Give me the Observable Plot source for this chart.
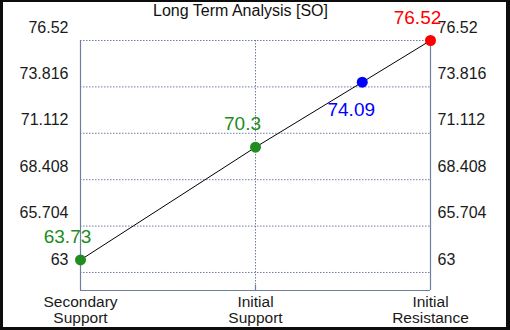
<!DOCTYPE html>
<html><head><meta charset="utf-8">
<script src="https://cdn.jsdelivr.net/npm/d3@7"></script>
<script src="https://cdn.jsdelivr.net/npm/@observablehq/plot@0.6"></script>
<style>
html,body{margin:0;padding:0;background:#0d0d0d;width:510px;height:330px;overflow:hidden;}
#wrap{position:absolute;left:3px;top:2px;width:503px;height:325px;background:#fff;}
#wrap svg{display:block;}
</style></head><body><div id="wrap"></div>
<script>
const title = "Long Term Analysis [SO]";
const categories = ["Secondary\nSupport", "Initial\nSupport", "Initial\nResistance"];
const categoryPos = [0, 1, 2];
const pointNames = ["Secondary Support", "Initial Support", "Current", "Initial Resistance"];
const pointX = [0, 1, 1.61, 2];
const pointValues = [63.73, 70.3, 74.09, 76.52];
const pointColors = ["#228b22", "#228b22", "#0000ff", "#ff0000"];
const tickValues = [63, 65.704, 68.408, 71.112, 73.816, 76.52];
const tickLabels = ["63", "65.704", "68.408", "71.112", "73.816", "76.52"];
const yMin = 61.95;

const points = pointNames.map((n, i) => ({name: n, x: pointX[i], y: pointValues[i], color: pointColors[i], label: String(pointValues[i])}));
const ticks = tickValues.map((v, i) => ({v, label: tickLabels[i]}));
const cats = categories.map((c, i) => ({l1: c.split("\n")[0], l2: c.split("\n")[1], x: categoryPos[i]}));
const axisColor = "#6e7f9e";
const font = "Liberation Sans, Arial, sans-serif";

const chart = Plot.plot({
  width: 503, height: 325,
  marginLeft: 77, marginRight: 76, marginTop: 38, marginBottom: 37,
  style: {fontFamily: font, background: "#fff"},
  x: {domain: [0, 2], axis: null},
  y: {domain: [yMin, 76.52], axis: null},
  marks: [
    Plot.ruleY(ticks, {y: "v", stroke: axisColor, strokeDasharray: "1.5,1.5", strokeWidth: 1}),
    Plot.ruleX([1], {stroke: axisColor, strokeDasharray: "1.5,1.5", strokeWidth: 1}),
    Plot.ruleX([1], {y1: yMin, y2: yMin + 0.3, stroke: axisColor, strokeWidth: 1.2}),
    Plot.ruleX([0, 2], {stroke: axisColor, strokeWidth: 1.2}),
    Plot.ruleY([yMin], {stroke: axisColor, strokeWidth: 1.2}),
    Plot.line(points, {x: "x", y: "y", stroke: "#000", strokeWidth: 1}),
    Plot.dot(points, {x: "x", y: "y", fill: "color", r: 5.5, stroke: null}),
    Plot.text(points.filter(d => d.name !== "Current"), {x: "x", y: "y", text: "label", fill: "color", fontSize: 19, dx: -13, dy: -23}),
    Plot.text(points.filter(d => d.name === "Current"), {x: "x", y: "y", text: "label", fill: "color", fontSize: 19, dx: -11, dy: 28}),
    Plot.text(ticks, {y: "v", text: "label", frameAnchor: "left", textAnchor: "end", dx: -12, dy: -13, fontSize: 16, fill: "#1a1a1a"}),
    Plot.text(ticks, {y: "v", text: "label", frameAnchor: "right", textAnchor: "start", dx: 7, dy: -13, fontSize: 16, fill: "#1a1a1a"}),
    Plot.text(cats, {x: "x", text: "l1", frameAnchor: "bottom", lineAnchor: "top", dy: 5, fontSize: 15.5, fill: "#1a1a1a"}),
    Plot.text(cats, {x: "x", text: "l2", frameAnchor: "bottom", lineAnchor: "top", dy: 21, fontSize: 15.5, fill: "#1a1a1a"}),
    Plot.text([title], {frameAnchor: "top", text: d => d, dx: -15, dy: -36, lineAnchor: "top", fontSize: 16, fill: "#111"})
  ]
});
document.getElementById("wrap").appendChild(chart);
</script>
</body></html>
